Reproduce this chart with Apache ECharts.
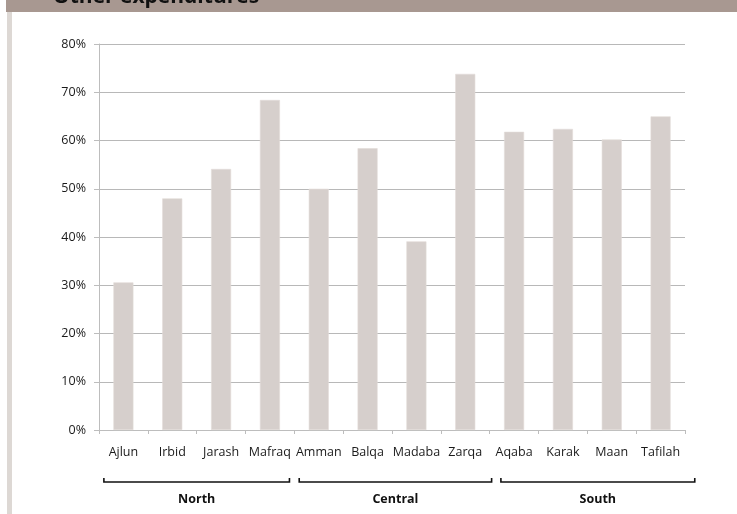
<!DOCTYPE html>
<html>
<head>
<meta charset="utf-8">
<script src="https://cdn.jsdelivr.net/npm/echarts@6/dist/echarts.min.js"></script>
<style>
  html, body { margin: 0; padding: 0; background: #ffffff; }
  #chart { width: 737px; height: 514px; }
</style>
</head>
<body>
<div id="chart"></div>
<script>
// Share of other expenditures by governorate
const governorates = ['Ajlun', 'Irbid', 'Jarash', 'Mafraq', 'Amman', 'Balqa', 'Madaba', 'Zarqa', 'Aqaba', 'Karak', 'Maan', 'Tafilah'];
const shares = [30.6, 48.0, 54.1, 68.4, 50.0, 58.4, 39.1, 73.8, 61.8, 62.4, 60.2, 65.0];
const regions = ['North', 'Central', 'South'];
const regionSizes = [4, 4, 4];
const yTicks = [0, 10, 20, 30, 40, 50, 60, 70, 80];

// bracket ends, in category units, relative to each region's span
const bracketInset = [[0.1, -0.1], [0.1, 0.04], [0.23, 0.2]];

const font = '"Open Sans", "DejaVu Sans", sans-serif';
const chart = echarts.init(document.getElementById('chart'), null, { renderer: 'canvas' });

chart.setOption({
  animation: false,
  backgroundColor: '#ffffff',
  grid: { left: 99, right: 52, top: 44, bottom: 84, containLabel: false },
  xAxis: {
    type: 'category',
    data: governorates,
    axisLine: { lineStyle: { color: '#bdbdbd', width: 1 } },
    axisTick: { show: true, length: 4, lineStyle: { color: '#bdbdbd' } },
    axisLabel: { interval: 0, color: '#1a1a1a', fontSize: 12.5, fontFamily: font, margin: 16 }
  },
  yAxis: {
    type: 'value',
    min: yTicks[0],
    max: yTicks[yTicks.length - 1],
    interval: 10,
    axisLine: { show: true, lineStyle: { color: '#bdbdbd', width: 1 } },
    axisTick: { show: true, length: 5, lineStyle: { color: '#bdbdbd' } },
    axisLabel: { color: '#1a1a1a', fontSize: 12.5, fontFamily: font, margin: 13, formatter: v => v + '%' },
    splitLine: { show: true, lineStyle: { color: '#b8b8b8', width: 1 } }
  },
  series: [{
    type: 'bar',
    data: shares,
    barWidth: 20,
    itemStyle: { color: '#d6cfcc', borderColor: '#e2dcd9', borderWidth: 0.6 }
  }]
});

// Decorations: header band, left rule, region brackets
function drawDecor() {
  const elements = [
    { type: 'rect', shape: { x: 6, y: 0, width: 731, height: 12 }, style: { fill: '#a89891' }, z: 10 },
    { type: 'rect', shape: { x: 7, y: 12, width: 5, height: 502 }, style: { fill: '#ddd8d4' }, z: 10 },
    { type: 'text', x: 53, y: 8, style: { text: 'Other expenditures', fontSize: 21, fontWeight: 'bold', fontFamily: font, fill: '#111111', verticalAlign: 'bottom' }, z: 11 }
  ];
  const y0 = chart.convertToPixel({ yAxisIndex: 0 }, 0);
  const first = chart.convertToPixel({ xAxisIndex: 0 }, 0);
  const second = chart.convertToPixel({ xAxisIndex: 0 }, 1);
  const step = second - first;
  const left0 = first - step / 2;
  const lineY = y0 + 52;
  let start = 0;
  regions.forEach((name, i) => {
    const a = left0 + (start + bracketInset[i][0]) * step;
    const b = left0 + (start + regionSizes[i] + bracketInset[i][1]) * step;
    elements.push({
      type: 'polyline',
      shape: { points: [[a, lineY - 4], [a, lineY], [b, lineY], [b, lineY - 4]] },
      style: { stroke: '#111111', lineWidth: 1.6, fill: null }
    });
    elements.push({
      type: 'text', x: (a + b) / 2, y: lineY + 17,
      style: { text: name, fontSize: 12.5, fontWeight: 'bold', fontFamily: font, fill: '#111111', align: 'center', verticalAlign: 'middle' }
    });
    start += regionSizes[i];
  });
  chart.setOption({ graphic: { elements } });
}
drawDecor();
</script>
</body>
</html>
